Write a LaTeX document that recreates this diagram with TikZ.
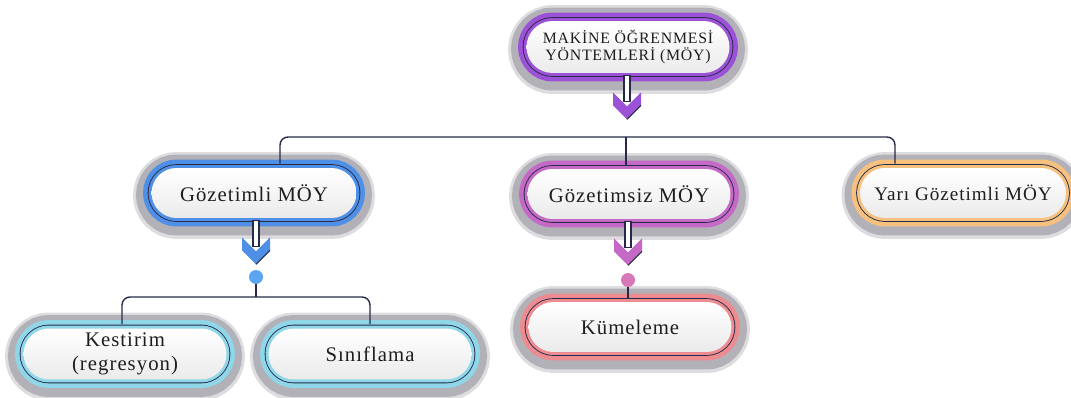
\documentclass[tikz,border=0pt]{standalone}
\usepackage{fontspec}
\setmainfont{Liberation Serif}[LetterSpace=5]
\usetikzlibrary{shapes.misc,calc}

\definecolor{linecol}{HTML}{262A48}
\definecolor{shadowgrey}{HTML}{B3B1B8}
\definecolor{txtcol}{HTML}{1E1E1E}
\definecolor{mainpurple}{HTML}{9C52D6}
\definecolor{supblue}{HTML}{4F8FE6}
\definecolor{unsupmag}{HTML}{C469C6}
\definecolor{semiorange}{HTML}{F6C17F}
\definecolor{taskcyan}{HTML}{8FD7E8}
\definecolor{clustred}{HTML}{EC8C90}
\definecolor{dotblue}{HTML}{5BA5F2}
\definecolor{dotpink}{HTML}{D978B8}

\tikzset{
  pill/.style={rounded rectangle, minimum width=4.06cm, minimum height=1.0cm, inner sep=0pt,
    align=center, text=txtcol, font=\fontsize{11.8}{14}\selectfont,
    top color=white, bottom color=black!8,
    preaction={draw=shadowgrey!45, line width=0.74cm, transform canvas={yshift=-0.05cm}},
    preaction={draw=shadowgrey, line width=0.62cm, transform canvas={yshift=-0.04cm}},
    preaction={draw=#1, line width=0.34cm},
    preaction={draw=linecol, double=#1, double distance=0.12cm, line width=0.5pt}},
  conn/.style={draw=linecol, line width=0.8pt, rounded corners=0.16cm},
  dot/.style={circle, fill=#1, minimum size=0.28cm, inner sep=0pt},
  pics/chevron/.style={code={
    \draw[linecol, line width=0.6pt, fill=white] (-3,-44) rectangle (3,-18);
    \fill[#1] (-14,-27) -- (0,-13) -- (14,-27) -- (14,-14) -- (0,0) -- (-14,-14) -- cycle;
    \draw[linecol, line width=0.6pt] (14,-14) -- (0,0);
  }}
}

\begin{document}
\begin{tikzpicture}[x=0.02cm, y=-0.02cm]
    \useasboundingbox (0,0) rectangle (1071,398);

    % boxes
    \node[pill=mainpurple, font=\fontsize{9}{10}\selectfont, minimum height=1.04cm] (moy) at (628,47) {MAKİNE ÖĞRENMESİ\\YÖNTEMLERİ (MÖY)};

    \node[pill=supblue, minimum width=4.1cm] (gsup) at (254,193) {Gözetimli MÖY};
    \node[pill=unsupmag] (gsiz) at (629,194) {Gözetimsiz MÖY};
    \node[pill=semiorange, minimum width=4.12cm, font=\fontsize{10.9}{13}\selectfont] (yari) at (963,193) {Yarı Gözetimli MÖY};

    \node[pill=taskcyan, minimum height=1.02cm] (kest) at (125,354) {Kestirim\\(regresyon)};
    \node[pill=taskcyan, minimum height=1.02cm] (sinif) at (370,354) {Sınıflama};
    \node[pill=clustred] (kume) at (630,327) {Kümeleme};

    % arrows out of the boxes
    \pic at ($(moy.south)+(-1,46)$) {chevron=mainpurple};
    \pic at ($(gsup.south)+(2,46)$) {chevron=supblue};
    \pic at ($(gsiz.south)+(-1,46)$) {chevron=unsupmag};

    \coordinate (topsplit) at (626,137);
    \coordinate (leftsplit) at (256,297);

    % connectors
    \draw[conn] ($(gsup.north)+(26,-4)$) |- (topsplit) -| ($(yari.north)+(-68,-4)$);
    \draw[conn] (topsplit) -- ($(gsiz.north)+(-3,-4)$);

    \node[dot=dotblue] (dotA) at (256,277) {};
    \node[dot=dotpink] (dotB) at (628,280) {};

    \draw[conn] (dotA) -- (leftsplit);
    \draw[conn] ($(kest.north)+(-3,-4)$) |- (leftsplit) -| ($(sinif.north)+(0,-4)$);
    \draw[conn] (dotB) -- ($(kume.north)+(-2,-4)$);
\end{tikzpicture}
\end{document}
